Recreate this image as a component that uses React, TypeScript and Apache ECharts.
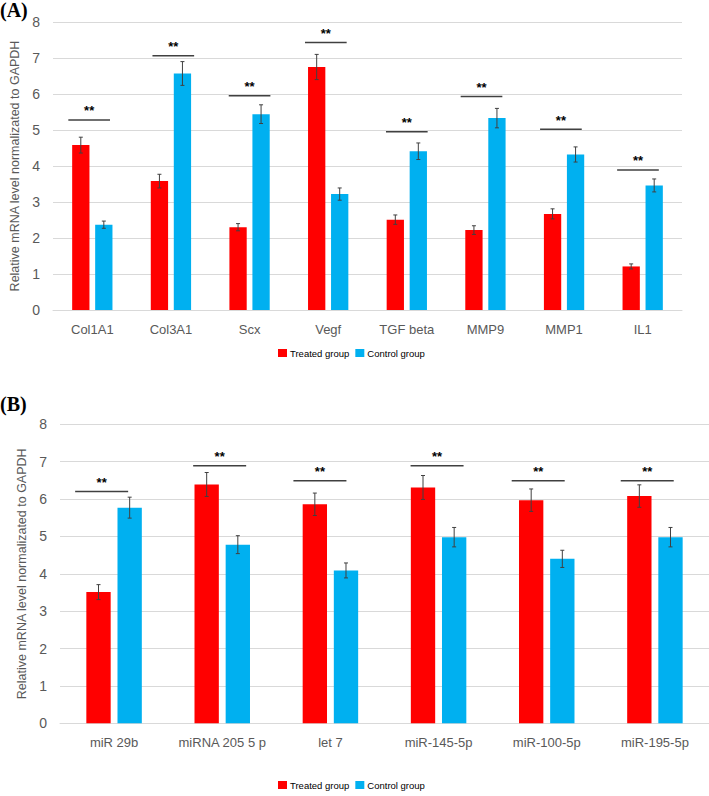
import React, { useEffect, useRef } from "react";
import * as echarts from "echarts";

const categoriesA = ["Col1A1", "Col3A1", "Scx", "Vegf", "TGF beta", "MMP9", "MMP1", "IL1"];
const treatedA = [4.58, 3.58, 2.3, 6.75, 2.51, 2.22, 2.67, 1.21];
const treatedErrA = [0.22, 0.19, 0.1, 0.35, 0.13, 0.12, 0.14, 0.07];
const controlA = [2.37, 6.57, 5.44, 3.22, 4.41, 5.33, 4.32, 3.46];
const controlErrA = [0.1, 0.33, 0.26, 0.17, 0.23, 0.27, 0.21, 0.18];
const sigLevelA = [5.28, 7.06, 5.95, 7.43, 4.95, 5.93, 5.02, 3.89];
const sigShiftA = [-0.04, 0.03, 0, -0.03, 0, -0.05, -0.04, -0.06];

const categoriesB = ["miR 29b", "miRNA 205 5 p", "let 7", "miR-145-5p", "miR-100-5p", "miR-195-5p"];
const treatedB = [3.51, 6.39, 5.86, 6.31, 5.97, 6.08];
const treatedErrB = [0.2, 0.32, 0.3, 0.32, 0.3, 0.3];
const controlB = [5.77, 4.78, 4.09, 4.98, 4.4, 4.98];
const controlErrB = [0.28, 0.24, 0.2, 0.26, 0.23, 0.26];
const sigLevelB = [6.2, 6.89, 6.49, 6.89, 6.49, 6.49];
const sigShiftB = [-0.115, -0.024, -0.097, -0.014, -0.079, -0.071];

const seriesNames = ["Treated group", "Control group"];
const RED = "#ff0000";
const BLUE = "#00b0f0";
const FONT = "Liberation Sans";

function errorSeries(idx: number, values: number[], errs: number[], sign: number, barFrac: number, gapFrac: number) {
  return {
    type: "custom",
    xAxisIndex: idx,
    yAxisIndex: idx,
    silent: true,
    z: 5,
    data: values.map((v, i) => [i, v, errs[i]]),
    renderItem: (params: any, api: any) => {
      const i = api.value(0);
      const v = api.value(1);
      const e = api.value(2);
      const band = api.size([1, 0])[0];
      const bw = band * barFrac;
      const gap = bw * gapFrac;
      const c = api.coord([i, v]);
      const x = c[0] + (sign * (bw + gap)) / 2;
      const yt = api.coord([i, v + e])[1];
      const yb = api.coord([i, v - e])[1];
      const st = { stroke: "#404040", lineWidth: 1 };
      return {
        type: "group",
        children: [
          { type: "line", shape: { x1: x, y1: yt, x2: x, y2: yb }, style: st },
          { type: "line", shape: { x1: x - 2, y1: yt, x2: x + 2, y2: yt }, style: st },
          { type: "line", shape: { x1: x - 2, y1: yb, x2: x + 2, y2: yb }, style: st },
        ],
      };
    },
  };
}

function sigSeries(idx: number, levels: number[], shifts: number[], widthFrac: number) {
  return {
    type: "custom",
    xAxisIndex: idx,
    yAxisIndex: idx,
    silent: true,
    z: 6,
    data: levels.map((l, i) => [i, l, shifts[i]]),
    renderItem: (params: any, api: any) => {
      const i = api.value(0);
      const l = api.value(1);
      const s = api.value(2);
      const band = api.size([1, 0])[0];
      const c = api.coord([i, l]);
      const cx = c[0] + s * band;
      const half = (band * widthFrac) / 2;
      return {
        type: "group",
        children: [
          {
            type: "line",
            shape: { x1: cx - half, y1: c[1], x2: cx + half, y2: c[1] },
            style: { stroke: "#404040", lineWidth: 1.5 },
          },
          {
            type: "text",
            x: cx,
            y: c[1] - 9,
            style: {
              text: "**",
              fill: "#000",
              font: `bold 13px ${FONT}`,
              align: "center",
              verticalAlign: "middle",
            },
          },
        ],
      };
    },
  };
}

function barSeries(idx: number, name: string, data: number[], color: string, barWidth: string, barGap: string) {
  return {
    type: "bar",
    name,
    xAxisIndex: idx,
    yAxisIndex: idx,
    data,
    barWidth,
    barGap,
    itemStyle: { color },
    silent: true,
  };
}

export default function App() {
  const ref = useRef<HTMLDivElement>(null);
  useEffect(() => {
    if (!ref.current) return;
    const chart = echarts.init(ref.current, null, { renderer: "svg" });
    const axisLabel = { color: "#595959", fontFamily: FONT, fontSize: 14 };
    const yAxisBase = (gap: number) => ({
      type: "value",
      min: 0,
      max: 8,
      interval: 1,
      name: "Relative mRNA level normalizated to GAPDH",
      nameLocation: "middle",
      nameGap: gap,
      nameTextStyle: { color: "#595959", fontFamily: FONT, fontSize: 12.5 },
      axisLine: { show: false },
      axisTick: { show: false },
      axisLabel: { ...axisLabel, margin: 13 },
      splitLine: { lineStyle: { color: "#d9d9d9", width: 1 } },
    });
    const xAxisBase = (cats: string[], idx: number) => ({
      type: "category",
      gridIndex: idx,
      data: cats,
      axisLine: { lineStyle: { color: "#d9d9d9", width: 1 } },
      axisTick: { show: false },
      axisLabel: { color: "#595959", fontFamily: FONT, fontSize: 13, margin: 13, interval: 0 },
    });
    const legendBase = (top: number) => ({
      data: seriesNames,
      top,
      left: 278,
      padding: 0,
      orient: "horizontal",
      icon: "rect",
      itemWidth: 9,
      itemHeight: 8,
      itemGap: 6,
      selectedMode: false,
      textStyle: { color: "#000", fontFamily: FONT, fontSize: 9.5, padding: [0, 0, 0, -2] },
    });
    chart.setOption({
      animation: false,
      backgroundColor: "#fff",
      grid: [
        { left: 53, right: 27, top: 22, height: 288 },
        { left: 60, right: 0, top: 424.3, height: 299 },
      ],
      xAxis: [xAxisBase(categoriesA, 0), xAxisBase(categoriesB, 1)],
      yAxis: [
        { ...yAxisBase(24), gridIndex: 0 },
        { ...yAxisBase(26), gridIndex: 1 },
      ],
      legend: [legendBase(348), legendBase(780)],
      graphic: [
        { type: "text", left: 0, top: 0, style: { text: "(A)", font: "bold 20px 'Liberation Serif'", fill: "#000" } },
        { type: "text", left: 0, top: 394, style: { text: "(B)", font: "bold 20px 'Liberation Serif'", fill: "#000" } },
      ],
      series: [
        barSeries(0, seriesNames[0], treatedA, RED, "22%", "33%"),
        barSeries(0, seriesNames[1], controlA, BLUE, "22%", "33%"),
        errorSeries(0, treatedA, treatedErrA, -1, 0.22, 0.33),
        errorSeries(0, controlA, controlErrA, 1, 0.22, 0.33),
        sigSeries(0, sigLevelA, sigShiftA, 0.53),
        barSeries(1, seriesNames[0], treatedB, RED, "22.5%", "28%"),
        barSeries(1, seriesNames[1], controlB, BLUE, "22.5%", "28%"),
        errorSeries(1, treatedB, treatedErrB, -1, 0.225, 0.28),
        errorSeries(1, controlB, controlErrB, 1, 0.225, 0.28),
        sigSeries(1, sigLevelB, sigShiftB, 0.49),
      ],
    });
    return () => chart.dispose();
  }, []);
  return (
    <div
      ref={ref}
      style={{ position: "fixed", left: 0, top: 0, width: 709, height: 796, background: "#fff" }}
    />
  );
}
